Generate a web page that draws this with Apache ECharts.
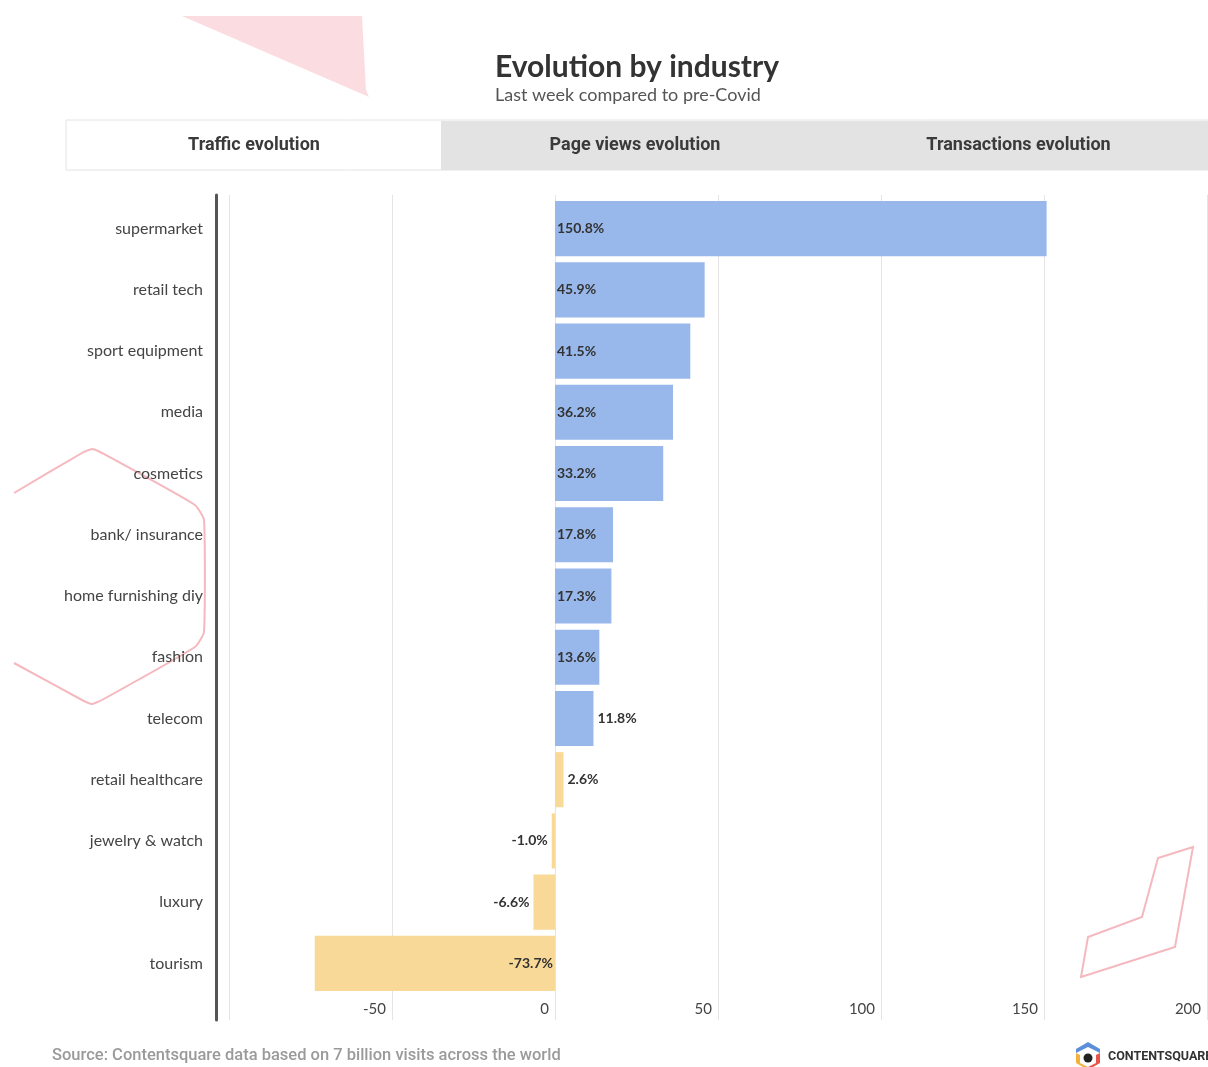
<!DOCTYPE html>
<html>
<head>
<meta charset="utf-8">
<title>Evolution by industry</title>
<script src="https://cdn.jsdelivr.net/npm/echarts@6/dist/echarts.min.js"></script>
<style>
  html, body { margin: 0; padding: 0; background: #fff; }
  #chart { width: 1208px; height: 1067px; }
</style>
</head>
<body>
<div id="chart"></div>
<script>
// Industries, top to bottom
const industries = [
  'supermarket', 'retail tech', 'sport equipment', 'media', 'cosmetics',
  'bank/ insurance', 'home furnishing diy', 'fashion', 'telecom',
  'retail healthcare', 'jewelry & watch', 'luxury', 'tourism'
];
// Traffic evolution, last week vs pre-Covid (%)
const trafficChange = [150.8, 45.9, 41.5, 36.2, 33.2, 17.8, 17.3, 13.6, 11.8, 2.6, -1.0, -6.6, -73.7];
// Value axis ticks
const axisMin = -100;
const axisMax = 200;
const axisStep = 50;
const tabs = ['Traffic evolution', 'Page views evolution', 'Transactions evolution'];

const BLUE = '#98b8ec';
const YELLOW = '#f8d997';

function labelPosition(v) {
  const fits = Math.abs(v) >= 13;
  if (v >= 0) return fits ? 'insideLeft' : 'right';
  return fits ? 'insideRight' : 'left';
}

const barData = trafficChange.map(v => ({
  value: v,
  itemStyle: { color: v >= 10 ? BLUE : YELLOW },
  label: { position: labelPosition(v), distance: Math.abs(v) >= 13 ? 2 : 4 }
}));

const chart = echarts.init(document.getElementById('chart'), null, { renderer: 'canvas' });

// Tab strip above the chart
const tabX = [67, 441, 823, 1208];
const tabGraphics = [
  { type: 'rect', shape: { x: 66, y: 120, width: 1142, height: 50 },
    style: { fill: '#fff', stroke: '#e4e4e4', lineWidth: 1 }, silent: true },
  { type: 'rect', shape: { x: 441, y: 121, width: 767, height: 49 },
    style: { fill: '#e3e3e3' }, silent: true }
];
tabs.forEach((t, i) => {
  tabGraphics.push({
    type: 'text',
    x: (tabX[i] + tabX[i + 1]) / 2 + (i === 0 ? 0 : 3),
    y: 145,
    style: {
      text: t, fill: '#3a3a3a', font: 'bold 18px Roboto, sans-serif',
      textAlign: 'center', textVerticalAlign: 'middle'
    },
    silent: true
  });
});

// Decorative pink outlines
const decor = [
  { type: 'polygon', shape: { points: [[182, 16], [362, 16], [366, 90], [369, 97]] },
    style: { fill: 'rgba(246, 180, 188, 0.45)' }, silent: true, z: -1 },
  { type: 'polyline',
    shape: { points: [[14, 493], [82, 453], [92, 449], [102, 453], [195, 505], [204, 520], [204, 632], [195, 647], [102, 700], [92, 704], [82, 700], [14, 663]], smooth: 0.15 },
    style: { stroke: '#f5b8be', lineWidth: 2, fill: null }, silent: true, z: -1 },
  { type: 'polygon',
    shape: { points: [[1193, 847], [1158, 858], [1142, 917], [1088, 937], [1081, 977], [1175, 947]] },
    style: { stroke: '#f5b8be', lineWidth: 2, fill: null }, silent: true, z: -1 }
];

// Source line and brand mark
const footer = [
  { type: 'text', x: 52, y: 1056,
    style: { text: 'Source: Contentsquare data based on 7 billion visits across the world',
      fill: '#9a9a9a', font: '500 16.5px Roboto, sans-serif', textVerticalAlign: 'middle' }, silent: true },
  { type: 'polygon', shape: { points: [[1088, 1042], [1100, 1049], [1100, 1053], [1088, 1047], [1076, 1053], [1076, 1049]] },
    style: { fill: '#5b8fd9' }, silent: true },
  { type: 'polygon', shape: { points: [[1076, 1053], [1080, 1055], [1080, 1063], [1088, 1067], [1083, 1067], [1076, 1063]] },
    style: { fill: '#f2b33d' }, silent: true },
  { type: 'polygon', shape: { points: [[1100, 1053], [1096, 1055], [1096, 1063], [1088, 1067], [1093, 1067], [1100, 1063]] },
    style: { fill: '#e8534a' }, silent: true },
  { type: 'circle', shape: { cx: 1088, cy: 1058, r: 4.5 }, style: { fill: '#222' }, silent: true },
  { type: 'text', x: 1108, y: 1057,
    style: { text: 'CONTENTSQUARE', fill: '#333', font: 'bold 12.5px Roboto, sans-serif', textVerticalAlign: 'middle' }, silent: true }
];

const option = {
  backgroundColor: '#fff',
  animation: false,
  title: {
    text: 'Evolution by industry',
    subtext: 'Last week compared to pre-Covid',
    left: 490,
    top: 47,
    itemGap: 4,
    textStyle: { fontFamily: 'Lato', fontSize: 30, fontWeight: 'bold', color: '#333' },
    subtextStyle: { fontFamily: 'Lato', fontSize: 18, color: '#555' }
  },
  graphic: [].concat(decor, tabGraphics, footer),
  grid: [
    // frame: grid lines, value ticks and the dark baseline at left
    { left: 229, right: 1, top: 195, height: 825 },
    // bars
    { left: 229, right: 1, top: 198, height: 796 }
  ],
  xAxis: [
    {
      gridIndex: 0, type: 'value', min: axisMin, max: axisMax, interval: axisStep,
      axisLine: { show: false }, axisTick: { show: false },
      splitLine: { show: true, lineStyle: { color: '#e4e4e4', width: 1 } },
      axisLabel: {
        inside: true, margin: 3, align: 'right', padding: [0, 6, 0, 0],
        color: '#444', fontFamily: 'Lato', fontSize: 15,
        formatter: v => (v === axisMin ? '' : String(v))
      }
    },
    {
      gridIndex: 1, type: 'value', min: axisMin, max: axisMax, interval: axisStep,
      show: false, splitLine: { show: false }
    }
  ],
  yAxis: [
    {
      gridIndex: 0, type: 'value', min: 0, max: 1, offset: 13,
      axisLine: { show: true, onZero: false, lineStyle: { color: '#555', width: 3 } },
      axisTick: { show: false }, axisLabel: { show: false }, splitLine: { show: false }
    },
    {
      gridIndex: 1, type: 'category', data: industries, inverse: true,
      axisLine: { show: false }, axisTick: { show: false },
      axisLabel: { margin: 26, color: '#444', fontFamily: 'Lato', fontSize: 16 }
    }
  ],
  series: [{
    type: 'bar',
    xAxisIndex: 1,
    yAxisIndex: 1,
    data: barData,
    barCategoryGap: '10%',
    label: {
      show: true,
      color: '#333',
      fontFamily: 'Lato',
      fontWeight: 'bold',
      fontSize: 14,
      formatter: p => p.value.toFixed(1) + '%'
    }
  }]
};

chart.setOption(option);
</script>
</body>
</html>
